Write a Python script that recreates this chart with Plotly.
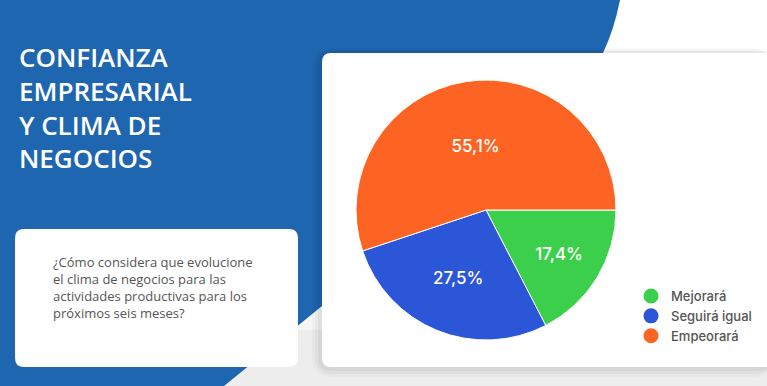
import plotly.graph_objects as go

categories = ["Mejorará", "Seguirá igual", "Empeorará"]
values = [17.4, 27.5, 55.1]
value_labels = ["17,4%", "27,5%", "55,1%"]
colors = ["#3bcf4b", "#2c56d8", "#fd6423"]

title_lines = ["CONFIANZA", "EMPRESARIAL", "Y CLIMA DE", "NEGOCIOS"]
question_lines = ["¿Cómo considera que evolucione", "el clima de negocios para las",
                  "actividades productivas para los", "próximos seis meses?"]

W, H = 767, 386


def rrect(x0, y0, x1, y1, r):
    return (f"M {x0+r} {y0} L {x1-r} {y0} Q {x1} {y0} {x1} {y0+r} L {x1} {y1-r} "
            f"Q {x1} {y1} {x1-r} {y1} L {x0+r} {y1} Q {x0} {y1} {x0} {y1-r} "
            f"L {x0} {y0+r} Q {x0} {y0} {x0+r} {y0} Z")


fig = go.Figure()

cx, cy, r = 486, 210, 130
fig.add_trace(go.Pie(
    labels=categories, values=values, text=value_labels, textinfo="text",
    sort=False, direction="clockwise", rotation=90,
    marker=dict(colors=colors, line=dict(color="white", width=1)),
    textfont=dict(color="white", size=17, family="Inter", weight=500),
    insidetextorientation="horizontal", textposition="inside",
    showlegend=False, hoverinfo="label+text",
    domain=dict(x=[(cx - r) / W, (cx + r) / W], y=[1 - (cy + r) / H, 1 - (cy - r) / H]),
))

for cat, col in zip(categories, colors):
    fig.add_trace(go.Scatter(x=[None], y=[None], mode="markers", name=cat,
                             marker=dict(color=col, size=15, symbol="circle")))

shapes = []
# light gray backdrop at bottom
shapes.append(dict(type="rect", x0=0, x1=W, y0=330, y1=H, fillcolor="#ededed", line_width=0, layer="below"))
shapes.append(dict(type="rect", x0=0, x1=W, y0=300, y1=330, fillcolor="#f6f6f6", line_width=0, layer="below"))
# blue shape
shapes.append(dict(type="path",
                   path="M 0 0 L 620 0 Q 614 30 603 53 L 560 160 L 322 306 L 224 386 L 0 386 Z",
                   fillcolor="#1f66b1", line_width=0, layer="below"))
# shadow of chart box
for off, op in [(10, 0.025), (7, 0.03), (4, 0.04)]:
    shapes.append(dict(type="path", path=rrect(322 - off, 53 - off / 2, W + 5, 367 + off, 10 + off),
                       fillcolor=f"rgba(0,0,0,{op})", line_width=0, layer="below"))
# chart box
shapes.append(dict(type="path", path=rrect(322, 53, W + 10, 367, 9),
                   fillcolor="white", line_width=0, layer="below"))
# question box
shapes.append(dict(type="path", path=rrect(15, 229, 298, 367, 9),
                   fillcolor="white", line_width=0, layer="below"))

annotations = [
    dict(x=18, y=107.5, xref="x", yref="y", text="<br>".join(title_lines), showarrow=False,
         xanchor="left", yanchor="middle", align="left", borderpad=0,
         font=dict(family="Open Sans", size=26, color="white", weight=600)),
    dict(x=52, y=287, xref="x", yref="y", text="<br>".join(question_lines), showarrow=False,
         xanchor="left", yanchor="middle", align="left", borderpad=0,
         font=dict(family="Open Sans", size=13, color="#555555")),
]

fig.update_layout(
    width=W, height=H, margin=dict(l=0, r=0, t=0, b=0),
    paper_bgcolor="white", plot_bgcolor="rgba(0,0,0,0)",
    xaxis=dict(range=[0, W], visible=False, fixedrange=True, domain=[0, 1]),
    yaxis=dict(range=[H, 0], visible=False, fixedrange=True, domain=[0, 1]),
    shapes=shapes, annotations=annotations,
    legend=dict(x=631 / W, y=1 - 281 / H, xanchor="left", yanchor="top",
                bgcolor="rgba(0,0,0,0)", tracegroupgap=0, itemwidth=30,
                font=dict(family="Inter", size=13, color="#555555", weight=500)),
    showlegend=True,
)

fig.write_html("out.html", config={"displayModeBar": False},
               post_script="document.body.style.margin='0';document.body.style.overflow='hidden';")
